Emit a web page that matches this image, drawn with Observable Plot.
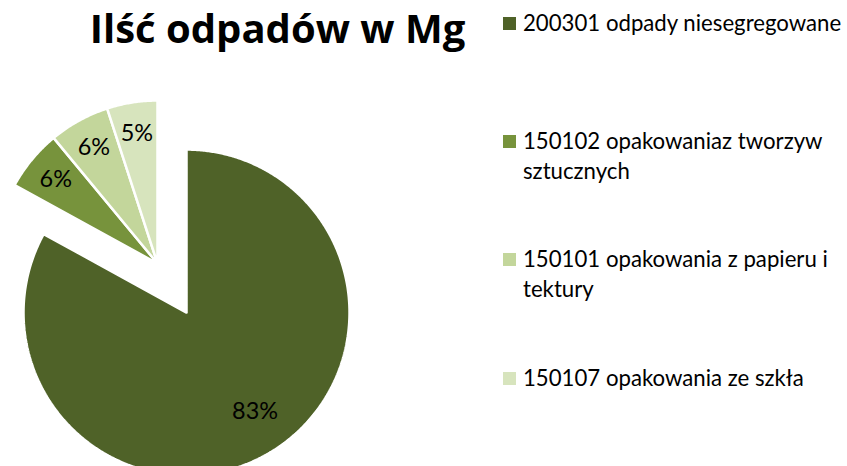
<!DOCTYPE html>
<html>
<head>
<meta charset="utf-8">
<script src="https://cdn.jsdelivr.net/npm/d3@7"></script>
<script src="https://cdn.jsdelivr.net/npm/@observablehq/plot@0.6"></script>
<style>
  html, body { margin: 0; padding: 0; background: #fff; }
  #wrap { position: relative; width: 847px; height: 466px; overflow: hidden; background: #fff; }
  #chart, #overlay { position: absolute; left: 0; top: 0; }
  #chart svg { display: block; }
</style>
</head>
<body>
<div id="wrap">
  <div id="chart"></div>
  <svg id="overlay" width="847" height="466"></svg>
</div>
<script>
// ---- data ----
const title = "Ilść odpadów w Mg";
const categories = [
  "200301 odpady niesegregowane",
  "150102 opakowaniaz tworzyw sztucznych",
  "150101 opakowania z papieru i tektury",
  "150107 opakowania ze szkła"
];
const shares = [83, 6, 6, 5];
const colors = ["#4F6228", "#77933C", "#C3D69B", "#D7E4BD"];
const explodedCategory = "200301 odpady niesegregowane";

// ---- layout / style ----
const W = 847, H = 466;
const cx = 157, cy = 263, R = 163, EXPLODE = 57;
const FONT = "Lato, 'Open Sans', sans-serif";
const TITLE_FONT = "'Open Sans', Lato, sans-serif";

const canvas = document.createElement("canvas");
const ctx = canvas.getContext("2d");
function textWidth(t, size, weight = "normal", family = "Lato") {
  ctx.font = `${weight} ${size}px ${family}`;
  return ctx.measureText(t).width;
}
function fitSize(t, target, weight = "normal", family = "Lato") {
  return 100 * target / textWidth(t, 100, weight, family);
}

const total = d3.sum(shares);
const pieArcs = d3.pie().sort(null).value(d => d.v)(categories.map((c, i) => ({c, v: shares[i]})));

const polys = [];
const labels = [];
for (const a of pieArcs) {
  const mid = (a.startAngle + a.endAngle) / 2;
  const off = a.data.c === explodedCategory ? EXPLODE : 0;
  const ox = cx + off * Math.sin(mid), oy = cy - off * Math.cos(mid);
  polys.push({c: a.data.c, x: ox, y: oy});
  const n = Math.max(4, Math.ceil((a.endAngle - a.startAngle) / 0.008));
  for (let k = 0; k <= n; k++) {
    const t = a.startAngle + (a.endAngle - a.startAngle) * k / n;
    polys.push({c: a.data.c, x: ox + R * Math.sin(t), y: oy - R * Math.cos(t)});
  }
  polys.push({c: a.data.c, x: ox, y: oy});
  const lr = off ? 0.74 * R : 0.81 * R;
  const la = off ? mid - 0.07 : mid;
  labels.push({c: a.data.c, x: ox + lr * Math.sin(la), y: oy - lr * Math.cos(la),
               text: d3.format(".0%")(a.data.v / total)});
}

const labelSize = fitSize("83%", 46);

const chart = Plot.plot({
  width: W, height: H, margin: 0,
  x: {domain: [0, W], range: [0, W], axis: null},
  y: {domain: [0, H], range: [0, H], axis: null},
  color: {domain: categories, range: colors},
  style: {background: "white", fontFamily: FONT, overflow: "hidden"},
  marks: [
    Plot.line(polys, {x: "x", y: "y", z: "c", fill: "c", stroke: "white", strokeWidth: 2.5, strokeLinejoin: "miter", curve: "linear"}),
    Plot.text(labels, {x: "x", y: "y", text: "text", fill: "#000", fontSize: labelSize, fontFamily: FONT})
  ]
});
document.getElementById("chart").append(chart);

// ---- title & legend (real text) ----
const ov = d3.select("#overlay").style("font-family", FONT);
const titleSize = Math.min(40, fitSize(title, 389, "bold", "Open Sans"));
ov.append("text").attr("x", 277.5).attr("y", 43).attr("text-anchor", "middle")
  .attr("font-family", TITLE_FONT)
  .attr("font-size", titleSize).attr("font-weight", "bold").attr("fill", "#000").text(title);

const legSize = fitSize(categories[0], 319);
const legBaselines = [31, 149, 267, 386];
const maxW = 326, lineH = 29.5;
categories.forEach((c, i) => {
  const g = ov.append("g");
  g.append("rect").attr("x", 503).attr("y", legBaselines[i] - 14).attr("width", 13).attr("height", 13).attr("fill", colors[i]);
  const words = c.split(" ");
  const lines = [];
  let cur = "";
  for (const w of words) {
    const test = cur ? cur + " " + w : w;
    if (cur && textWidth(test, legSize) > maxW) { lines.push(cur); cur = w; }
    else cur = test;
  }
  lines.push(cur);
  const t = g.append("text").attr("font-size", legSize).attr("fill", "#000");
  lines.forEach((ln, j) => {
    t.append("tspan").attr("x", 523).attr("y", legBaselines[i] + j * lineH).text(ln);
  });
});
</script>
</body>
</html>
